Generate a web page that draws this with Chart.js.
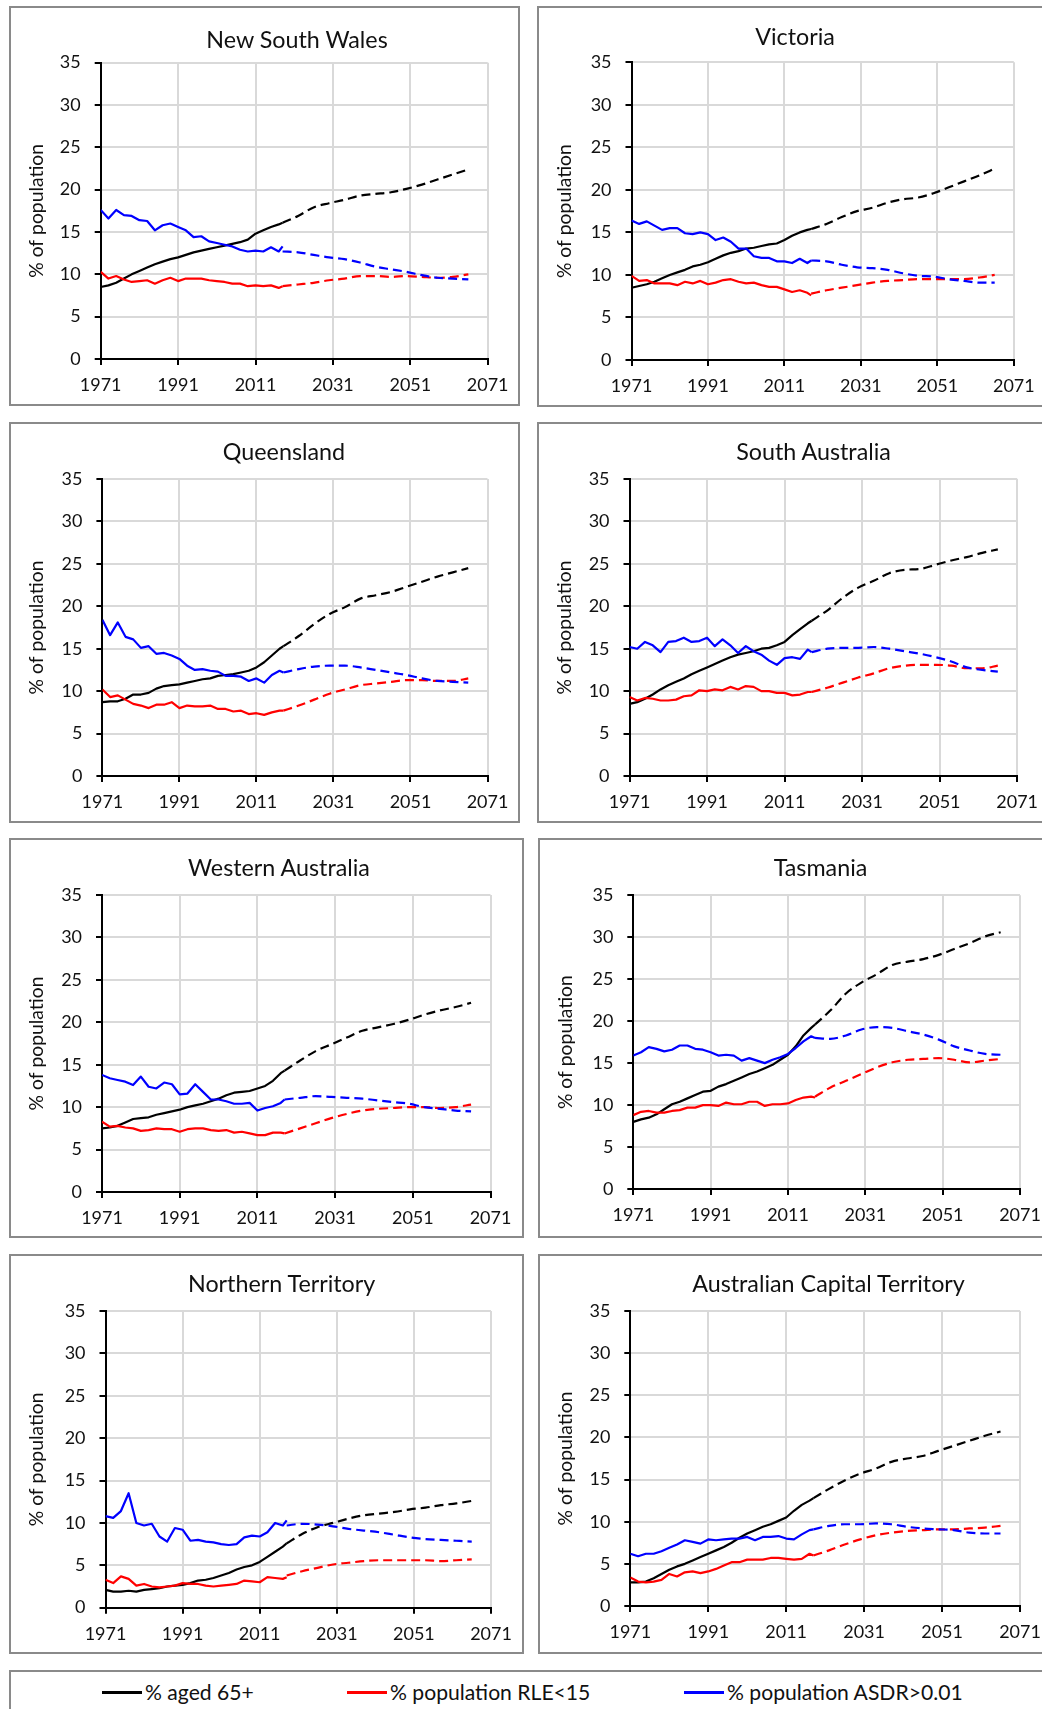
<!DOCTYPE html>
<html>
<head>
<meta charset="utf-8">
<script src="https://cdn.jsdelivr.net/npm/chart.js@4.4.1/dist/chart.umd.min.js"></script>
<style>
html,body{margin:0;padding:0;background:#fff;overflow:hidden;width:1042px;height:1709px;position:relative;}
.panel{position:absolute;border:2px solid #8a8a8a;box-sizing:border-box;}
canvas.c{position:absolute;}
.title{position:absolute;transform:translate(-50%,-50%);white-space:nowrap;line-height:1;color:#111;font-family:Lato,"Open Sans",sans-serif;}
.lg-line{position:absolute;height:3px;}
.lg-text{position:absolute;transform:translateY(-50%);white-space:nowrap;line-height:1;color:#111;font-family:Lato,"Open Sans",sans-serif;}
</style>
</head>
<body>
<script>
// ---------- DATA ----------
const xTicks = [1971, 1991, 2011, 2031, 2051, 2071];
const histYears = [1971,1973,1975,1977,1979,1981,1983,1985,1987,1989,1991,1993,1995,1997,1999,2001,2003,2005,2007,2009,2011,2013,2015,2017,2018];
const projYears = [2018,2022,2026,2030,2034,2038,2042,2046,2050,2054,2058,2062,2066];
const seriesNames = ['% aged 65+', '% population RLE<15', '% population ASDR>0.01'];

const nswAged = [8.5,8.7,9.0,9.5,10.0,10.4,10.8,11.2,11.5,11.8,12.0,12.3,12.6,12.8,13.0,13.2,13.4,13.6,13.8,14.1,14.8,15.2,15.6,15.9,16.1];
const nswAgedProj = [16.1,16.9,17.9,18.4,18.8,19.3,19.5,19.7,20.1,20.6,21.2,21.8,22.4];
const nswRle = [10.3,9.5,9.8,9.4,9.1,9.2,9.3,8.9,9.3,9.6,9.2,9.5,9.5,9.5,9.3,9.2,9.1,8.9,8.9,8.6,8.7,8.6,8.7,8.4,8.6];
const nswRleProj = [8.6,8.8,9.0,9.3,9.5,9.8,9.8,9.7,9.8,9.7,9.6,9.7,10.0];
const nswAsdr = [17.6,16.6,17.6,17.0,16.9,16.4,16.3,15.2,15.8,16.0,15.6,15.2,14.4,14.5,13.9,13.7,13.5,13.3,12.9,12.7,12.8,12.7,13.2,12.7,13.3];
const nswAsdrProj = [12.7,12.6,12.3,12.0,11.8,11.4,10.9,10.6,10.3,9.9,9.6,9.5,9.4];

const vicAged = [8.5,8.7,8.9,9.2,9.6,10.0,10.3,10.6,11.0,11.2,11.5,11.9,12.3,12.6,12.8,13.1,13.2,13.4,13.6,13.7,14.1,14.6,15.0,15.3,15.4];
const vicAgedProj = [15.4,16.0,16.8,17.5,17.9,18.5,18.9,19.1,19.6,20.3,21.0,21.7,22.5];
const vicRle = [9.9,9.3,9.4,9.0,9.0,9.0,8.8,9.2,9.0,9.3,8.9,9.1,9.4,9.5,9.2,9.0,9.1,8.8,8.6,8.6,8.3,8.0,8.2,7.9,7.6];
const vicRleProj = [7.8,8.2,8.5,8.8,9.1,9.3,9.4,9.5,9.5,9.5,9.5,9.7,10.0];
const vicAsdr = [16.4,16.0,16.3,15.8,15.3,15.5,15.5,14.9,14.8,15.0,14.8,14.1,14.4,13.9,13.1,13.1,12.2,12.0,12.0,11.6,11.6,11.4,11.9,11.4,11.7];
const vicAsdrProj = [11.7,11.6,11.2,10.9,10.8,10.6,10.2,9.9,9.8,9.5,9.3,9.1,9.1];

const qldAged = [8.7,8.8,8.8,9.1,9.6,9.6,9.8,10.3,10.6,10.7,10.8,11.0,11.2,11.4,11.5,11.8,11.9,12.0,12.2,12.4,12.8,13.4,14.2,15.0,15.3];
const qldAgedProj = [15.3,16.5,17.9,19.1,19.9,20.9,21.3,21.7,22.3,22.9,23.5,24.0,24.5];
const qldRle = [10.2,9.3,9.5,9.0,8.5,8.3,8.0,8.4,8.4,8.7,8.0,8.3,8.2,8.2,8.3,7.9,7.9,7.6,7.7,7.3,7.4,7.2,7.5,7.7,7.7];
const qldRleProj = [7.7,8.3,9.0,9.7,10.2,10.7,10.9,11.1,11.3,11.3,11.2,11.2,11.5];
const qldAsdr = [18.4,16.6,18.1,16.4,16.1,15.1,15.3,14.4,14.5,14.2,13.8,13.0,12.5,12.6,12.4,12.3,11.8,11.8,11.7,11.2,11.5,11.0,11.9,12.4,12.2];
const qldAsdrProj = [12.2,12.6,12.9,13.0,13.0,12.8,12.5,12.2,11.9,11.5,11.2,11.1,11.0];

const saAged = [8.5,8.7,9.1,9.6,10.2,10.7,11.1,11.5,12.0,12.4,12.8,13.2,13.6,14.0,14.3,14.5,14.7,15.0,15.1,15.4,15.8,16.6,17.3,18.0,18.3];
const saAgedProj = [18.3,19.5,21.0,22.2,23.0,23.9,24.3,24.4,24.9,25.4,25.8,26.3,26.7];
const saRle = [9.3,8.9,9.2,9.1,8.9,8.9,9.0,9.4,9.5,10.1,10.0,10.2,10.1,10.5,10.2,10.6,10.5,10.0,10.0,9.8,9.8,9.5,9.6,9.9,9.9];
const saRleProj = [9.9,10.4,11.0,11.6,12.1,12.7,13.0,13.1,13.1,13.0,12.7,12.7,13.0];
const saAsdr = [15.2,15.0,15.8,15.4,14.6,15.8,15.9,16.3,15.8,15.9,16.3,15.3,16.1,15.4,14.5,15.3,14.7,14.3,13.6,13.1,13.9,14.0,13.8,14.9,14.6];
const saAsdrProj = [14.6,15.0,15.1,15.1,15.2,15.0,14.7,14.4,14.0,13.5,12.8,12.5,12.3];

const waAged = [7.5,7.6,7.8,8.2,8.6,8.7,8.8,9.1,9.3,9.5,9.7,10.0,10.2,10.4,10.7,11.0,11.4,11.7,11.8,11.9,12.2,12.5,13.1,14.0,14.3];
const waAgedProj = [14.3,15.5,16.6,17.4,18.2,19.0,19.4,19.8,20.3,20.9,21.4,21.8,22.3];
const waRle = [8.3,7.7,7.8,7.6,7.5,7.2,7.3,7.5,7.4,7.4,7.1,7.4,7.5,7.5,7.3,7.2,7.3,7.0,7.1,6.9,6.7,6.7,7.0,7.0,6.9];
const waRleProj = [6.9,7.5,8.1,8.7,9.2,9.6,9.8,9.9,10.0,10.0,9.9,10.0,10.3];
const waAsdr = [13.8,13.4,13.2,13.0,12.6,13.6,12.4,12.2,12.9,12.7,11.5,11.6,12.7,11.8,10.9,10.9,10.7,10.4,10.4,10.5,9.6,9.9,10.1,10.5,10.9];
const waAsdrProj = [10.9,11.1,11.3,11.2,11.1,11.0,10.8,10.6,10.4,10.0,9.8,9.6,9.5];

const tasAged = [8.0,8.3,8.5,8.9,9.5,10.1,10.4,10.8,11.2,11.6,11.7,12.2,12.5,12.9,13.3,13.7,14.0,14.4,14.8,15.4,16.0,17.0,18.3,19.2,19.6];
const tasAgedProj = [19.6,21.3,23.3,24.6,25.6,26.7,27.1,27.4,27.9,28.6,29.3,30.1,30.6];
const tasRle = [8.8,9.2,9.3,9.1,9.1,9.3,9.4,9.7,9.7,10.0,10.0,9.9,10.3,10.1,10.1,10.4,10.4,9.9,10.1,10.1,10.2,10.6,10.9,11.0,10.9];
const tasRleProj = [11.0,12.1,12.9,13.7,14.5,15.1,15.4,15.5,15.6,15.4,15.1,15.3,15.5];
const tasAsdr = [15.9,16.3,16.9,16.7,16.4,16.6,17.1,17.1,16.7,16.6,16.3,15.9,16.0,15.9,15.3,15.6,15.3,15.0,15.4,15.7,16.1,16.8,17.6,18.2,18.0];
const tasAsdrProj = [18.0,17.9,18.3,19.0,19.3,19.2,18.8,18.4,17.8,17.0,16.5,16.1,16.0];

const ntAged = [2.1,1.9,1.9,2.0,1.9,2.1,2.2,2.3,2.5,2.6,2.7,2.9,3.2,3.3,3.5,3.8,4.1,4.5,4.8,5.0,5.4,6.0,6.6,7.2,7.6];
const ntAgedProj = [7.6,8.7,9.5,10.0,10.5,10.9,11.1,11.3,11.6,11.8,12.1,12.3,12.6];
const ntRle = [3.3,2.9,3.7,3.4,2.6,2.8,2.5,2.4,2.5,2.6,2.9,2.8,2.8,2.6,2.5,2.6,2.7,2.8,3.2,3.1,3.0,3.6,3.5,3.4,3.6];
const ntRleProj = [3.8,4.3,4.7,5.1,5.3,5.5,5.6,5.6,5.6,5.6,5.5,5.6,5.7];
const ntAsdr = [10.8,10.6,11.4,13.5,10.0,9.7,9.9,8.4,7.8,9.4,9.2,7.9,8.0,7.8,7.7,7.5,7.4,7.5,8.3,8.5,8.4,8.9,10.0,9.7,10.3];
const ntAsdrProj = [9.7,9.9,9.8,9.6,9.3,9.1,8.9,8.6,8.3,8.1,8.0,7.9,7.8];

const actAged = [2.8,2.8,2.9,3.3,3.8,4.3,4.7,5.0,5.4,5.8,6.2,6.6,7.0,7.5,8.1,8.6,9.0,9.4,9.7,10.1,10.5,11.3,12.0,12.5,12.8];
const actAgedProj = [12.8,13.9,14.9,15.7,16.3,17.1,17.5,17.8,18.4,19.0,19.6,20.2,20.7];
const actRle = [3.4,2.9,2.8,2.9,3.1,3.8,3.5,4.0,4.1,3.9,4.1,4.4,4.8,5.2,5.2,5.5,5.5,5.5,5.7,5.7,5.6,5.5,5.6,6.2,6.0];
const actRleProj = [6.0,6.6,7.3,7.9,8.4,8.7,8.9,9.0,9.1,9.1,9.2,9.3,9.5];
const actAsdr = [6.2,5.9,6.2,6.2,6.5,6.9,7.3,7.8,7.6,7.4,7.9,7.8,7.9,8.0,8.0,8.2,7.8,8.2,8.2,8.3,8.0,7.9,8.5,9.0,9.1];
const actAsdrProj = [9.1,9.5,9.7,9.7,9.8,9.7,9.4,9.2,9.1,9.0,8.7,8.6,8.6];

// ---------- LAYOUT (page pixel geometry) ----------
const panels = [
  {name:'New South Wales', box:[10,7,519,405], plot:[100.7,62.7,487.7,359], t:[297,39.5],
   d:[nswAged,nswAgedProj,nswRle,nswRleProj,nswAsdr,nswAsdrProj]},
  {name:'Victoria', box:[537.5,7,1080,406], plot:[631,62.3,1013.3,360], t:[795,37],
   d:[vicAged,vicAgedProj,vicRle,vicRleProj,vicAsdr,vicAsdrProj]},
  {name:'Queensland', box:[10,423,519,822], plot:[102.4,479,487.5,776], t:[284,451.5],
   d:[qldAged,qldAgedProj,qldRle,qldRleProj,qldAsdr,qldAsdrProj]},
  {name:'South Australia', box:[537.5,423,1080,822], plot:[629,479,1016.7,776], t:[813.5,451.5],
   d:[saAged,saAgedProj,saRle,saRleProj,saAsdr,saAsdrProj]},
  {name:'Western Australia', box:[10,839,523,1237], plot:[102,895,490.5,1192], t:[279,867.5],
   d:[waAged,waAgedProj,waRle,waRleProj,waAsdr,waAsdrProj]},
  {name:'Tasmania', box:[539,839,1080,1237], plot:[633.3,895.3,1020,1189], t:[820.5,867.5],
   d:[tasAged,tasAgedProj,tasRle,tasRleProj,tasAsdr,tasAsdrProj]},
  {name:'Northern Territory', box:[9.5,1255,523,1653], plot:[105,1311,490.5,1607.7], t:[281.6,1284],
   d:[ntAged,ntAgedProj,ntRle,ntRleProj,ntAsdr,ntAsdrProj]},
  {name:'Australian Capital Territory', box:[539,1255,1080,1653], plot:[630.3,1311,1020,1606], t:[828.5,1284],
   d:[actAged,actAgedProj,actRle,actRleProj,actAsdr,actAsdrProj]}
];
const titleWidths = [181,78,122,155,183,95.6,188,275];
const colors = ['#000000','#ff0000','#0000ff'];
const FAM = 'Lato, "Open Sans", sans-serif';

// font sizes fitted to the reference text widths
const mctx = document.createElement('canvas').getContext('2d');
function w100(text){ mctx.font = '100px ' + FAM; return mctx.measureText(text).width; }
function fitMany(texts, widths){ let a=0,b=0; texts.forEach((t,i)=>{a+=widths[i]; b+=w100(t);}); return a/b*100; }
const tickSize = fitMany(['2071','1991','2011'], [41.7,41.7,41.7]);
const titleSize = fitMany(panels.map(p=>p.name), titleWidths);
const yTitleSize = fitMany(['% of population'], [134]);
const legendSize = fitMany(seriesNames, [110,198,238]);

function pts(years, vals){ return years.map((x,i)=>({x:x, y:vals[i]})); }
function ds(years, vals, color, dashed){
  return {data: pts(years, vals), borderColor: color, backgroundColor: color, borderWidth: 2.2,
    pointRadius: 0, pointHoverRadius: 0, fill: false, borderDash: dashed ? [9,5] : [],
    cubicInterpolationMode: dashed ? 'monotone' : 'default', tension: dashed ? 0.4 : 0,
    borderJoinStyle: 'round', borderCapStyle: 'butt'};
}

panels.forEach(p => {
  const [L,T,R,B] = p.box;
  const [pl,pt,pr,pb] = p.plot;
  const div = document.createElement('div');
  div.className = 'panel';
  div.style.left = (L-1)+'px'; div.style.top = (T-1)+'px';
  div.style.width = (R-L+2)+'px'; div.style.height = (B-T+2)+'px';
  document.body.appendChild(div);

  const cv = document.createElement('canvas');
  cv.className = 'c';
  const W = Math.round(R-L), H = Math.round(B-T);
  cv.width = W; cv.height = H;
  cv.style.left = L+'px'; cv.style.top = T+'px';
  cv.style.width = W+'px'; cv.style.height = H+'px';
  document.body.appendChild(cv);

  const tt = document.createElement('div');
  tt.className = 'title';
  tt.textContent = p.name;
  tt.style.fontSize = titleSize+'px';
  tt.style.left = p.t[0]+'px'; tt.style.top = p.t[1]+'px';
  document.body.appendChild(tt);

  const d = p.d;
  const datasets = [
    ds(projYears, d[5], colors[2], true), ds(histYears, d[4], colors[2], false),
    ds(projYears, d[3], colors[1], true), ds(histYears, d[2], colors[1], false),
    ds(projYears, d[1], colors[0], true), ds(histYears, d[0], colors[0], false)
  ];
  const yAxisW = pl - L, xAxisH = B - pb;
  const yTitleCenter = 27;
  new Chart(cv, {
    type: 'line',
    data: {datasets: datasets},
    options: {
      responsive: false, animation: false, events: [],
      layout: {padding: {left: 0, top: pt - T, right: W - (pr - L), bottom: 0}},
      plugins: {legend: {display: false}, tooltip: {enabled: false}, title: {display: false}},
      scales: {
        x: {
          type: 'linear', min: 1971, max: 2071,
          afterBuildTicks: ax => { ax.ticks = xTicks.map(v => ({value: v})); },
          afterFit: s => { s.height = xAxisH; },
          grid: {color: '#d9d9d9', lineWidth: 2, tickLength: 6, tickColor: '#000', tickWidth: 2},
          border: {color: '#000', width: 2},
          ticks: {callback: v => String(v), autoSkip: false, maxRotation: 0, padding: 9.5,
                  color: '#111', font: {family: FAM, size: tickSize}}
        },
        y: {
          min: 0, max: 35,
          ticks: {stepSize: 5, padding: 14, color: '#111', font: {family: FAM, size: tickSize}},
          afterFit: s => { s.width = yAxisW; },
          grid: {color: '#d9d9d9', lineWidth: 2, tickLength: 6, tickColor: '#000', tickWidth: 2},
          border: {color: '#000', width: 2},
          title: {display: true, text: '% of population', color: '#111',
                  font: {family: FAM, size: yTitleSize},
                  padding: {top: yTitleCenter - 0.6*yTitleSize, bottom: 0}}
        }
      }
    }
  });
});

// ---------- LEGEND ----------
const lg = document.createElement('div');
lg.className = 'panel';
lg.style.left = '8.5px'; lg.style.top = '1670px'; lg.style.width = '1100px'; lg.style.height = '100px';
document.body.appendChild(lg);
const lgX = [[102,145],[347,390],[684,727]];
seriesNames.forEach((n,i) => {
  const ln = document.createElement('div');
  ln.className = 'lg-line';
  ln.style.left = lgX[i][0]+'px'; ln.style.width = '40px'; ln.style.top = '1690.5px';
  ln.style.background = colors[i];
  document.body.appendChild(ln);
  const tx = document.createElement('div');
  tx.className = 'lg-text';
  tx.textContent = n;
  tx.style.left = lgX[i][1]+'px'; tx.style.top = '1692.5px';
  tx.style.fontSize = legendSize+'px';
  document.body.appendChild(tx);
});
</script>
</body>
</html>
